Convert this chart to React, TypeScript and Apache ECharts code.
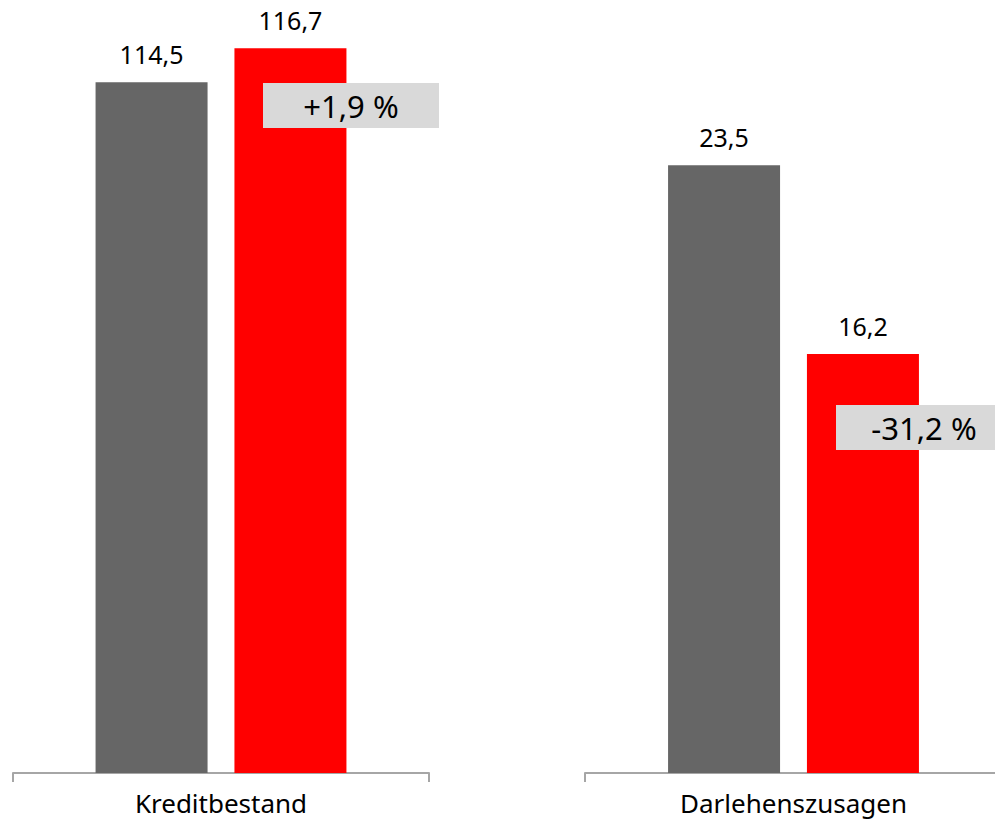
import React, { useEffect, useRef } from "react";
import * as echarts from "echarts";

const categoriesLeft = ["Kreditbestand"];
const categoriesRight = ["Darlehenszusagen"];
const previousValues = [114.5, 23.5];
const currentValues = [116.7, 16.2];
const changeLabels = ["+1,9 %", "-31,2 %"];

const GRAY = "#666666";
const RED = "#ff0000";
const FONT = "'Noto Sans', 'Open Sans', sans-serif";

const fmt = (v: number) => v.toFixed(1).replace(".", ",");

export default function App() {
  const ref = useRef<HTMLDivElement>(null);
  useEffect(() => {
    if (!ref.current) return;
    const chart = echarts.init(ref.current, undefined, { renderer: "svg" });
    const axisCommon = {
      type: "category" as const,
      axisLine: { lineStyle: { color: "#a6a6a6", width: 2 } },
      axisTick: { show: true, length: 9, lineStyle: { color: "#a6a6a6", width: 2 } },
      axisLabel: { color: "#000", fontSize: 26, fontFamily: FONT, margin: 17 },
    };
    const label = {
      show: true,
      position: "top" as const,
      distance: 16,
      color: "#000",
      fontSize: 25,
      fontFamily: FONT,
      formatter: (p: any) => fmt(p.value),
    };
    const bar = (name: string, color: string, data: number[], idx: number) => ({
      type: "bar" as const,
      name,
      data,
      xAxisIndex: idx,
      yAxisIndex: idx,
      barWidth: 112,
      barGap: "24%",
      clip: true,
      itemStyle: { color },
      label,
    });
    const box = (x: number, y: number, text: string) => ({
      type: "group",
      x,
      y,
      z: 100,
      children: [
        { type: "rect", z: 100, shape: { x: 0, y: 0, width: 176, height: 45 }, style: { fill: "#d9d9d9" } },
        {
          type: "text",
          z: 101,
          x: 88,
          y: 23,
          style: {
            text,
            fill: "#000",
            font: `31px ${FONT}`,
            align: "center",
            verticalAlign: "middle",
          },
        },
      ],
    });
    chart.setOption({
      animation: false,
      backgroundColor: "#ffffff",
      grid: [
        { left: 13, width: 416, top: 28, height: 745 },
        { left: 585, width: 417, top: 49, height: 724 },
      ],
      xAxis: [
        { ...axisCommon, gridIndex: 0, data: categoriesLeft },
        { ...axisCommon, gridIndex: 1, data: categoriesRight },
      ],
      yAxis: [
        { type: "value", gridIndex: 0, min: 70, max: 118, show: false },
        { type: "value", gridIndex: 1, min: 0, max: 28, show: false },
      ],
      series: [
        bar("Vorjahr", GRAY, [previousValues[0]], 0),
        bar("Aktuell", RED, [currentValues[0]], 0),
        bar("Vorjahr", GRAY, [previousValues[1]], 1),
        bar("Aktuell", RED, [currentValues[1]], 1),
      ],
      graphic: [box(263, 83, changeLabels[0]), box(836, 405, changeLabels[1])],
    });
    return () => chart.dispose();
  }, []);
  return (
    <div
      style={{
        position: "absolute",
        left: 0,
        top: 0,
        width: 995,
        height: 820,
        overflow: "hidden",
      }}
    >
      <div ref={ref} style={{ width: 1020, height: 820 }} />
    </div>
  );
}
